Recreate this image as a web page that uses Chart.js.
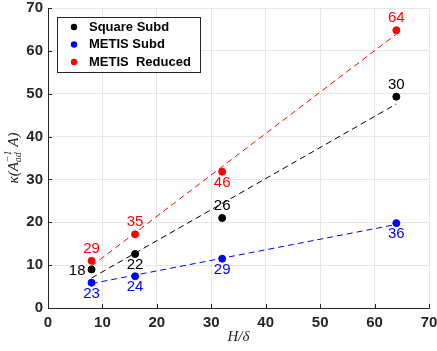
<!DOCTYPE html>
<html lang="en">
<head>
  <meta charset="UTF-8" />
  <title>Condition number vs H/delta</title>
  <script src="https://cdn.jsdelivr.net/npm/chart.js"></script>
  <style>
    html, body { margin: 0; padding: 0; background: #fff; }
    #wrap { width: 437px; height: 351px; }
  </style>
</head>
<body>
  <div id="wrap"><canvas id="condChart" width="437" height="351"></canvas></div>

  <script>
    // data
    const hOverDelta = [8, 16, 32, 64];
    const squareSubd = [9.0, 12.6, 21.0, 49.3];
    const metisSubd = [5.9, 7.4, 11.5, 19.8];
    const metisReduced = [11.0, 17.2, 31.8, 64.8];

    // iteration counts printed next to each point
    const squareIters = ['18', '22', '26', '30'];
    const metisIters = ['23', '24', '29', '36'];
    const reducedIters = ['29', '35', '46', '64'];

    // fitted dashed lines (endpoints at H/delta = 8 and 64)
    const fitX = [8, 64];
    const squareFit = [7.0, 47.6];
    const metisFit = [5.7, 19.5];
    const reducedFit = [9.8, 63.9];

    const xTicks = [0, 10, 20, 30, 40, 50, 60, 70];
    const yTicks = [0, 10, 20, 30, 40, 50, 60, 70];

    const pts = (ys) => hOverDelta.map((x, i) => ({ x: x, y: ys[i] }));
    const line = (ys) => fitX.map((x, i) => ({ x: x, y: ys[i] }));

    // where each label sits relative to its point
    const labelSpots = {
      0: ['left', 'below', 'above', 'above'],
      1: ['below', 'below', 'below', 'below'],
      2: ['above', 'above', 'below', 'above']
    };
    const labelSets = [squareIters, metisIters, reducedIters];

    const pointLabels = {
      id: 'pointLabels',
      afterDatasetsDraw(chart) {
        const c = chart.ctx;
        c.save();
        c.font = '15px "Liberation Sans", Arial, sans-serif';
        c.textBaseline = 'middle';
        [0, 1, 2].forEach(di => {
          const meta = chart.getDatasetMeta(di);
          const col = chart.data.datasets[di].backgroundColor;
          c.fillStyle = col;
          meta.data.forEach((p, i) => {
            const spot = labelSpots[di][i];
            let x = p.x, y = p.y;
            c.textAlign = 'center';
            if (spot === 'left') { c.textAlign = 'right'; x -= 6; y += 1; }
            else if (spot === 'above') { y -= 12; }
            else { y += 11; }
            c.fillText(labelSets[di][i], x, y);
          });
        });
        c.restore();
      }
    };

    // MATLAB-ish inward ticks, axis titles and boxed legend
    const decor = {
      id: 'decor',
      afterDraw(chart) {
        const c = chart.ctx;
        const a = chart.chartArea;
        const xs = chart.scales.x, ys = chart.scales.y;
        c.save();
        c.strokeStyle = '#262626';
        c.lineWidth = 1;
        c.beginPath();
        xTicks.forEach(t => {
          const px = Math.round(xs.getPixelForValue(t)) + 0.5;
          c.moveTo(px, a.bottom); c.lineTo(px, a.bottom - 4);
        });
        yTicks.forEach(t => {
          const py = Math.round(ys.getPixelForValue(t)) + 0.5;
          c.moveTo(a.left, py); c.lineTo(a.left + 4, py);
        });
        c.stroke();

        // x title
        c.fillStyle = '#262626';
        c.font = 'italic 15px "Liberation Serif", "DejaVu Serif", serif';
        c.textAlign = 'center';
        c.textBaseline = 'middle';
        c.fillText('H/δ', (a.left + a.right) / 2, 337);

        // y title with sub/superscript
        c.translate(14, (a.top + a.bottom) / 2);
        c.rotate(-Math.PI / 2);
        const big = 'italic 15px "Liberation Serif", "DejaVu Serif", serif';
        const small = 'italic 10px "Liberation Serif", "DejaVu Serif", serif';
        const parts = [
          { t: 'κ(A', f: big, dy: 0 },
          { t: '−1', f: small, dy: -6 },
          { t: 'ad', f: small, dy: 4 },
          { t: ' A)', f: big, dy: 0 }
        ];
        parts.forEach(p => { c.font = p.f; p.w = c.measureText(p.t).width; });
        const total = parts[0].w + Math.max(parts[1].w, parts[2].w) + parts[3].w;
        let cx = -total / 2;
        c.textAlign = 'left';
        c.font = parts[0].f; c.fillText(parts[0].t, cx, 0); cx += parts[0].w;
        c.font = small;
        c.fillText(parts[1].t, cx, parts[1].dy);
        c.fillText(parts[2].t, cx, parts[2].dy);
        cx += Math.max(parts[1].w, parts[2].w);
        c.font = big; c.fillText(parts[3].t, cx, 0);
        c.restore();

        // legend
        c.save();
        const lx = 57, ly = 17, lw = 143, lh = 55;
        c.fillStyle = '#fff';
        c.fillRect(lx, ly, lw, lh);
        c.strokeStyle = '#262626';
        c.lineWidth = 1;
        c.strokeRect(lx + 0.5, ly + 0.5, lw, lh);
        const entries = chart.data.datasets.slice(0, 3);
        c.font = 'bold 13px "Liberation Sans", Arial, sans-serif';
        c.textAlign = 'left';
        c.textBaseline = 'middle';
        entries.forEach((d, i) => {
          const y = ly + 10 + i * 17.5;
          c.fillStyle = d.backgroundColor;
          c.beginPath(); c.arc(lx + 17, y, 3.2, 0, Math.PI * 2); c.fill();
          c.fillStyle = '#000';
          c.fillText(d.label, lx + 32, y);
        });
        c.restore();
      }
    };

    const tickFont = { family: '"Liberation Sans", Arial, sans-serif', size: 15, weight: 'bold' };

    new Chart(document.getElementById('condChart'), {
      type: 'scatter',
      data: {
        datasets: [
          { label: 'Square Subd', data: pts(squareSubd), backgroundColor: '#000000', borderColor: '#000000', pointRadius: 3.5, showLine: false },
          { label: 'METIS Subd', data: pts(metisSubd), backgroundColor: '#0000ff', borderColor: '#0000ff', pointRadius: 3.5, showLine: false },
          { label: 'METIS  Reduced', data: pts(metisReduced), backgroundColor: '#ff0000', borderColor: '#ff0000', pointRadius: 3.5, showLine: false },
          { label: 'fit1', data: line(squareFit), showLine: true, borderColor: '#000000', borderWidth: 1, borderDash: [6, 4], pointRadius: 0 },
          { label: 'fit2', data: line(metisFit), showLine: true, borderColor: '#0000ff', borderWidth: 1, borderDash: [6, 4], pointRadius: 0 },
          { label: 'fit3', data: line(reducedFit), showLine: true, borderColor: '#ff0000', borderWidth: 1, borderDash: [6, 4], pointRadius: 0 }
        ]
      },
      options: {
        responsive: false,
        animation: false,
        layout: { padding: { left: 0, right: 8, top: 8, bottom: 0 } },
        plugins: { legend: { display: false }, tooltip: { enabled: false } },
        scales: {
          x: {
            type: 'linear', min: 0, max: 70,
            afterBuildTicks: s => { s.ticks = xTicks.map(v => ({ value: v })); },
            afterFit: s => { s.height = 43; s.paddingLeft = 0; s.paddingRight = 0; },
            ticks: { font: tickFont, color: '#262626', padding: 6 },
            grid: { color: '#e6e6e6', drawTicks: false },
            border: { color: '#262626', width: 1 }
          },
          y: {
            type: 'linear', min: 0, max: 70,
            afterBuildTicks: s => { s.ticks = yTicks.map(v => ({ value: v })); },
            afterFit: s => { s.width = 48; s.paddingTop = 0; s.paddingBottom = 0; },
            ticks: { font: tickFont, color: '#262626', padding: 5 },
            grid: { color: '#e6e6e6', drawTicks: false },
            border: { color: '#262626', width: 1 }
          }
        }
      },
      plugins: [pointLabels, decor]
    });
  </script>
</body>
</html>
